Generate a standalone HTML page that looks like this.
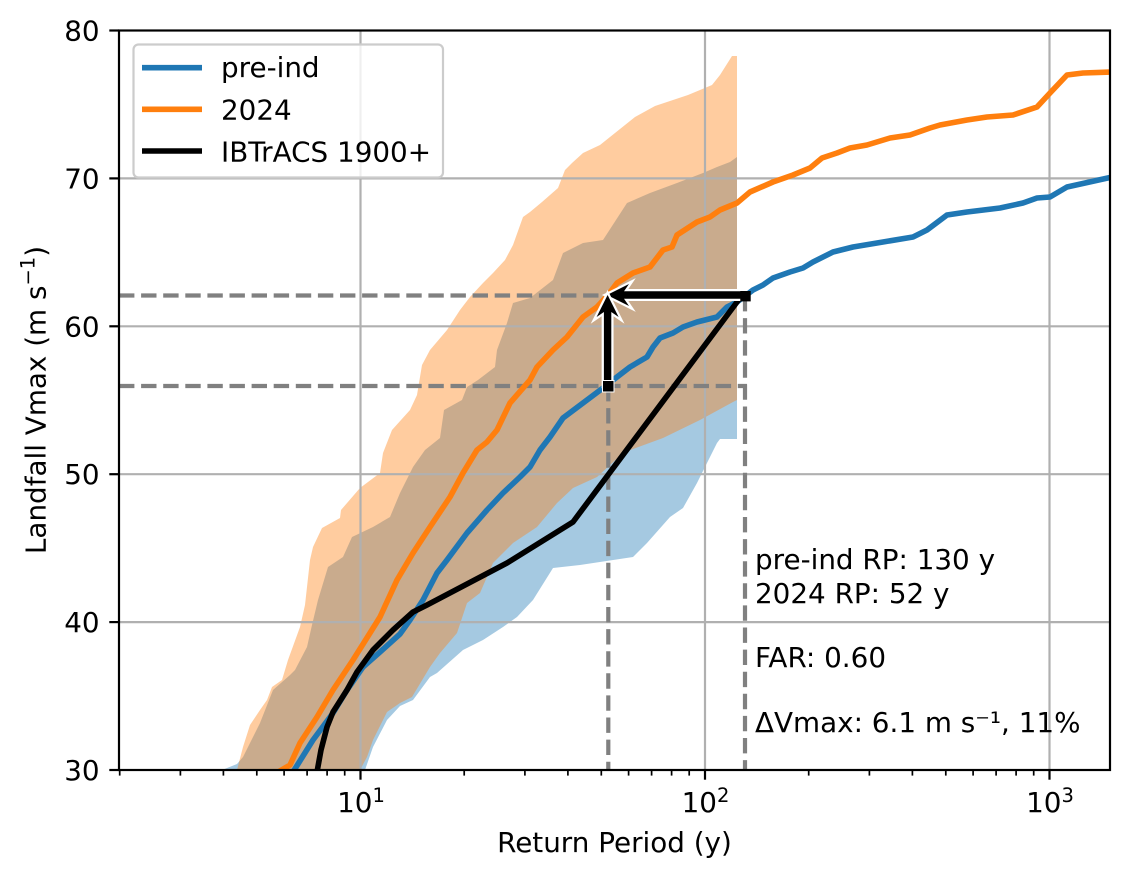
<!DOCTYPE html>
<html><head><meta charset="utf-8"><style>
html,body{margin:0;padding:0;background:#fff;}
svg{display:block;font-family:"DejaVu Sans","Liberation Sans",sans-serif;}
</style></head><body>
<svg width="1130" height="878" viewBox="0 0 1130 878" xmlns="http://www.w3.org/2000/svg">
<defs><clipPath id="pa"><rect x="119" y="30.5" width="991" height="739.5"/></clipPath></defs>
<rect width="1130" height="878" fill="#fff"/>
<g clip-path="url(#pa)">
<polygon fill="#1f77b4" fill-opacity="0.4" points="222,770 237,764 243,757 260,723 273,690 290,675 295,670 307,647 312,625 318,600 328,567 343,557 352,537 373,527 390,517 400,493 408,477 413,467 425,450 440,438 444,410 462,400 467,387 478,380 495,367 497,350 507,323 513,303 530,298 553,280 563,253 583,243 603,240 627,203 650,193 677,183 703,173 717,167 730,162 737,157 737,439 720,439 717,443 697,483 683,508 670,517 647,543 633,557 580,565 553,568 533,600 517,617 503,627 483,640 463,650 437,673 430,677 413,700 400,706 387,720 373,747 365,770"/>
<polygon fill="#ff7f0e" fill-opacity="0.4" points="237,770 243,747 250,725 260,710 267,700 272,687 282,680 288,660 300,627 305,605 310,560 313,547 322,528 340,518 341,510 360,488 380,473 383,453 392,430 410,410 417,395 422,365 430,350 447,330 460,310 470,297 483,283 493,273 505,260 513,245 523,217 530,212 542,202 558,188 565,170 572,163 583,153 600,145 635,117 655,106 688,95 712,85 720,75 732,56 737,56 737,400 733,402 700,420 663,438 633,449 623,453 597,477 573,488 557,503 537,527 513,543 493,563 480,593 467,603 457,633 440,653 430,667 412,697 400,703 387,712 373,740 367,757 360,770"/>
<g stroke="#b0b0b0" stroke-width="2.2" fill="none">
<line x1="360.5" y1="30" x2="360.5" y2="770"/>
<line x1="705" y1="30" x2="705" y2="770"/>
<line x1="1049.5" y1="30" x2="1049.5" y2="770"/>
<line x1="119" y1="178.4" x2="1110" y2="178.4"/>
<line x1="119" y1="326.3" x2="1110" y2="326.3"/>
<line x1="119" y1="474.2" x2="1110" y2="474.2"/>
<line x1="119" y1="622.1" x2="1110" y2="622.1"/>
</g>
<g stroke="#808080" stroke-width="4.2" stroke-dasharray="15.4 6.7" fill="none">
<line x1="119" y1="295.5" x2="747" y2="295.5"/>
<line x1="119" y1="386" x2="747" y2="386"/>
<line x1="608.3" y1="386" x2="608.3" y2="772"/>
<line x1="745" y1="296" x2="745" y2="772"/>
</g>
<g fill="none" stroke-width="5.6" stroke-linejoin="round">
<polyline stroke="#1f77b4" points="293,772 313,740 333,713 347,690 363,667 380,652 400,634 410,620 423,600 437,573 447,560 467,533 487,510 503,493 520,477 530,467 540,450 550,437 563,418 583,403 603,388 617,377 630,367 647,357 653,347 660,338 673,333 683,327 697,322 717,317 727,307 737,302 745,296 753,290 763,285 773,278 790,272 803,268 813,262 833,252 853,247 883,242 913,237 927,230 947,215 967,212 1000,208 1023,203 1037,198 1050,197 1067,187 1112,177"/>
<polyline stroke="#ff7f0e" points="278,772 290,765 300,743 317,717 333,690 353,660 370,633 380,617 397,580 413,553 430,527 450,497 463,473 477,450 487,442 497,430 510,403 530,380 537,367 553,350 567,337 583,317 597,307 608,295 617,283 633,273 650,267 663,250 672,247 677,235 697,222 710,217 720,210 737,203 750,192 773,182 793,175 810,168 822,158 837,153 850,148 867,145 890,138 910,135 930,128 940,125 967,120 987,117 1013,115 1037,107 1050,93 1067,75 1083,73 1112,72"/>
<polyline stroke="#000" points="317,772 321,750 327,727 333,712 347,690 357,672 373,650 393,630 413,612 427,605 507,563 573,522 740,298"/>
</g>
</g>
<!-- arrows -->
<polygon fill="#000" stroke="#fff" stroke-width="4.5" stroke-linejoin="miter" paint-order="stroke" points="607,295 629,284 624,291.3 745,291.3 745,298.7 624,298.7 629,306"/>
<polygon fill="#000" stroke="#fff" stroke-width="4.5" stroke-linejoin="miter" paint-order="stroke" points="607.6,295 618.6,317 611.3,312 611.3,386 603.9,386 603.9,312 596.6,317"/>
<rect x="603" y="381" width="10.5" height="10.5" fill="#000" stroke="#fff" stroke-width="2" paint-order="stroke"/>
<rect x="740.3" y="291" width="10.4" height="10.4" fill="#000"/>
<!-- spines -->
<rect x="119" y="30.5" width="991" height="739.5" fill="none" stroke="#000" stroke-width="2.2"/>
<!-- ticks -->
<g stroke="#000" stroke-width="2.2">
<line x1="360.5" y1="770" x2="360.5" y2="779.7"/>
<line x1="705" y1="770" x2="705" y2="779.7"/>
<line x1="1049.5" y1="770" x2="1049.5" y2="779.7"/>
<line x1="109.3" y1="30.5" x2="119" y2="30.5"/>
<line x1="109.3" y1="178.4" x2="119" y2="178.4"/>
<line x1="109.3" y1="326.3" x2="119" y2="326.3"/>
<line x1="109.3" y1="474.2" x2="119" y2="474.2"/>
<line x1="109.3" y1="622.1" x2="119" y2="622.1"/>
<line x1="109.3" y1="770" x2="119" y2="770"/>
</g>
<g stroke="#000" stroke-width="1.7">
<line x1="119.7" y1="770" x2="119.7" y2="775.6"/>
<line x1="180.4" y1="770" x2="180.4" y2="775.6"/>
<line x1="223.4" y1="770" x2="223.4" y2="775.6"/>
<line x1="256.8" y1="770" x2="256.8" y2="775.6"/>
<line x1="284.1" y1="770" x2="284.1" y2="775.6"/>
<line x1="307.1" y1="770" x2="307.1" y2="775.6"/>
<line x1="327.1" y1="770" x2="327.1" y2="775.6"/>
<line x1="344.7" y1="770" x2="344.7" y2="775.6"/>
<line x1="464.2" y1="770" x2="464.2" y2="775.6"/>
<line x1="524.9" y1="770" x2="524.9" y2="775.6"/>
<line x1="567.9" y1="770" x2="567.9" y2="775.6"/>
<line x1="601.3" y1="770" x2="601.3" y2="775.6"/>
<line x1="628.6" y1="770" x2="628.6" y2="775.6"/>
<line x1="651.6" y1="770" x2="651.6" y2="775.6"/>
<line x1="671.6" y1="770" x2="671.6" y2="775.6"/>
<line x1="689.2" y1="770" x2="689.2" y2="775.6"/>
<line x1="808.7" y1="770" x2="808.7" y2="775.6"/>
<line x1="869.4" y1="770" x2="869.4" y2="775.6"/>
<line x1="912.4" y1="770" x2="912.4" y2="775.6"/>
<line x1="945.8" y1="770" x2="945.8" y2="775.6"/>
<line x1="973.1" y1="770" x2="973.1" y2="775.6"/>
<line x1="996.1" y1="770" x2="996.1" y2="775.6"/>
<line x1="1016.1" y1="770" x2="1016.1" y2="775.6"/>
<line x1="1033.7" y1="770" x2="1033.7" y2="775.6"/>
</g>
<!-- tick labels -->
<g font-size="27.8" fill="#000" text-anchor="end">
<text x="99.6" y="40.5">80</text>
<text x="99.6" y="188.4">70</text>
<text x="99.6" y="336.3">60</text>
<text x="99.6" y="484.2">50</text>
<text x="99.6" y="632.1">40</text>
<text x="99.6" y="780">30</text>
</g>
<g font-size="27.8" fill="#000" text-anchor="middle">
<text x="361" y="812">10<tspan font-size="19.5" dy="-10">1</tspan></text>
<text x="705.5" y="812">10<tspan font-size="19.5" dy="-10">2</tspan></text>
<text x="1050" y="812">10<tspan font-size="19.5" dy="-10">3</tspan></text>
<text x="614.5" y="852">Return Period (y)</text>
<text transform="translate(45.5,400) rotate(-90)">Landfall Vmax (m s<tspan font-size="19.5" dy="-11">−1</tspan><tspan dy="11">)</tspan></text>
</g>
<!-- annotation -->
<g font-size="27.8" fill="#000">
<text x="755" y="569">pre-ind RP: 130 y</text>
<text x="755" y="603">2024 RP: 52 y</text>
<text x="755" y="667">FAR: 0.60</text>
<text x="755" y="732">ΔVmax: 6.1 m s⁻¹, 11%</text>
</g>
<!-- legend -->
<rect x="133.5" y="44.5" width="309.5" height="133" rx="5" ry="5" fill="#fff" fill-opacity="0.8" stroke="#cccccc" stroke-width="2.2"/>
<g stroke-width="5.6">
<line x1="142" y1="67.7" x2="202" y2="67.7" stroke="#1f77b4"/>
<line x1="142" y1="109.3" x2="202" y2="109.3" stroke="#ff7f0e"/>
<line x1="142" y1="151" x2="202" y2="151" stroke="#000"/>
</g>
<g font-size="27.8" fill="#000">
<text x="221" y="77">pre-ind</text>
<text x="221" y="119.5">2024</text>
<text x="221" y="161.5">IBTrACS 1900+</text>
</g>
</svg>
</body></html>
